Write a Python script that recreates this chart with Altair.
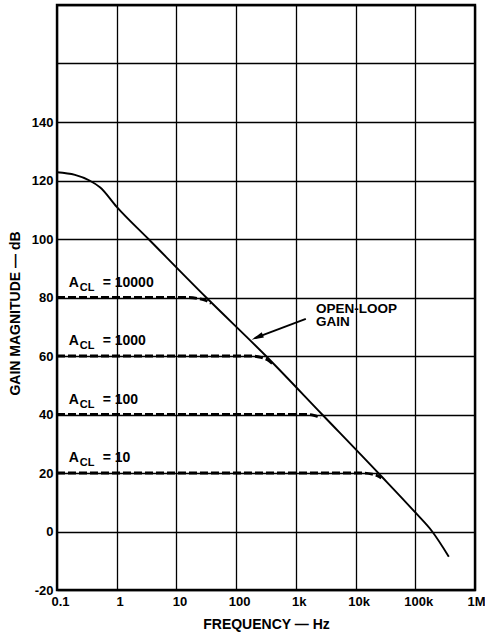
import altair as alt
import pandas as pd

# ---------------- data ----------------
x_ticks = [0.1, 1, 10, 100, 1000, 10000, 100000, 1000000]
x_tick_labels = ["0.1", "1", "10", "100", "1k", "10k", "100k", "1M"]
y_ticks = [-20, 0, 20, 40, 60, 80, 100, 120, 140, 160, 180]
y_tick_labels = ["-20", "0", "20", "40", "60", "80", "100", "120", "140", "", ""]

# open-loop gain curve
ol_freq = [0.1, 0.2, 0.35, 0.53, 1, 3.4, 31.6, 316, 2760, 24000, 100000, 192000, 364000]
ol_db = [122.8, 121.9, 120.0, 117.6, 111.0, 100.0, 80.0, 60.0, 40.0, 20.0, 6.5, 0.0, -8.6]

# closed-loop responses (dashed)
acl_names = ["10000", "1000", "100", "10"]
cl_freq = {
    "10000": [0.1, 16, 24, 31, 38],
    "1000": [0.1, 178, 260, 340, 414],
    "100": [0.1, 1580, 2000, 2300, 2600],
    "10": [0.1, 13400, 19000, 23000, 27000],
}
cl_db = {
    "10000": [80, 80, 79.6, 79.0, 78.0],
    "1000": [60, 60, 59.5, 58.6, 57.2],
    "100": [40, 40, 39.7, 39.3, 38.8],
    "10": [20, 20, 19.6, 19.1, 18.3],
}
acl_label_db = [85, 65, 45, 25]
acl_label_freq = 0.157

ann_lines = ["OPEN-LOOP", "GAIN"]
ann_db = [76.1, 71.5]
ann_freq = 2170
arrow_freq = [1470, 205]
arrow_db = [72.7, 66.1]
arrow_head_freq = [225]
arrow_head_db = [66.4]

# ---------------- tables ----------------
ol_df = pd.DataFrame({"f": ol_freq, "db": ol_db})
cl_rows = []
for name in acl_names:
    for i, (f, d) in enumerate(zip(cl_freq[name], cl_db[name])):
        cl_rows.append({"acl": name, "f": f, "db": d, "o": i})
cl_df = pd.DataFrame(cl_rows)
lab_df = pd.DataFrame({"acl": acl_names, "db": acl_label_db, "f": [acl_label_freq] * 4,
                       "rest": ["= " + n for n in acl_names]})
ann_df = pd.DataFrame({"t": ann_lines, "db": ann_db, "f": [ann_freq] * 2})
arrow_df = pd.DataFrame({"f": arrow_freq, "db": arrow_db, "o": [0, 1]})
head_df = pd.DataFrame({"f": arrow_head_freq, "db": arrow_head_db})

FONT = "Liberation Sans"

x_expr = " : ".join(
    f"datum.value == {v} ? '{l}'" for v, l in zip(x_ticks, x_tick_labels)
) + " : ''"
y_expr = " : ".join(
    f"datum.value == {v} ? '{l}'" for v, l in zip(y_ticks, y_tick_labels)
) + " : ''"

x_scale = alt.Scale(type="log", domain=[0.1, 1000000], nice=False)
y_scale = alt.Scale(domain=[-20, 180], nice=False)

x_axis = alt.Axis(
    values=x_ticks, labelExpr=x_expr, title="FREQUENCY — Hz", grid=True,
    gridColor="black", gridOpacity=1, gridWidth=1.3, ticks=False, domain=False,
    labelFont=FONT, labelFontSize=13, labelFontWeight="bold", labelColor="black",
    labelPadding=5,
    labelOffset={"condition": {"test": "datum.value == 1000000", "value": 10}, "value": 3},
    labelAlign={"condition": {"test": "datum.value == 1000000", "value": "right"}, "value": "center"},
    labelOverlap=False, labelBound=False, labelFlush=False,
    titleFont=FONT, titleFontSize=14, titleFontWeight="bold", titleColor="black",
    titleY=34, titleBaseline="middle",
)
y_axis = alt.Axis(
    values=y_ticks, labelExpr=y_expr, title="GAIN MAGNITUDE — dB", grid=True,
    gridColor="black", gridOpacity=1, gridWidth=1.3, ticks=False, domain=False,
    labelFont=FONT, labelFontSize=13, labelFontWeight="bold", labelColor="black",
    labelPadding=4, labelOverlap=False, labelBound=False,
    titleFont=FONT, titleFontSize=14, titleFontWeight="bold", titleColor="black",
    titleX=-42, titleY=308, titleBaseline="middle", titleAngle=-90,
)

ol = alt.Chart(ol_df).mark_line(color="black", strokeWidth=1.9, interpolate="monotone").encode(
    x=alt.X("f:Q", scale=x_scale, axis=x_axis),
    y=alt.Y("db:Q", scale=y_scale, axis=y_axis),
)

cl = alt.Chart(cl_df).mark_line(color="black", strokeWidth=2.8, strokeDash=[8, 3],
                                interpolate="monotone").encode(
    x=alt.X("f:Q", scale=x_scale),
    y=alt.Y("db:Q", scale=y_scale),
    detail="acl:N",
    order="o:Q",
)

txt = dict(font=FONT, fontWeight="bold", color="black", baseline="middle", align="left")
lab_a = alt.Chart(lab_df).mark_text(text="A", fontSize=14, **txt).encode(
    x=alt.X("f:Q", scale=x_scale), y=alt.Y("db:Q", scale=y_scale))
lab_cl = alt.Chart(lab_df).mark_text(text="CL", fontSize=11, dx=11, dy=5, **txt).encode(
    x=alt.X("f:Q", scale=x_scale), y=alt.Y("db:Q", scale=y_scale))
lab_rest = alt.Chart(lab_df).mark_text(fontSize=14, dx=34, **txt).encode(
    x=alt.X("f:Q", scale=x_scale), y=alt.Y("db:Q", scale=y_scale), text="rest:N")

ann = alt.Chart(ann_df).mark_text(fontSize=13.5, **txt).encode(
    x=alt.X("f:Q", scale=x_scale), y=alt.Y("db:Q", scale=y_scale), text="t:N")

arrow = alt.Chart(arrow_df).mark_line(color="black", strokeWidth=1.9).encode(
    x=alt.X("f:Q", scale=x_scale), y=alt.Y("db:Q", scale=y_scale), order="o:Q")
head = alt.Chart(head_df).mark_point(
    shape="M 1 0 L -1 -0.45 L -1 0.45 Z", filled=True, color="black", opacity=1,
    size=150, angle=157, strokeWidth=0,
).encode(x=alt.X("f:Q", scale=x_scale), y=alt.Y("db:Q", scale=y_scale))

chart = alt.layer(ol, cl, lab_a, lab_cl, lab_rest, ann, arrow, head).properties(
    width=418, height=585,
    autosize=alt.AutoSizeParams(type="none"),
    padding={"left": 57, "top": 5, "right": 10, "bottom": 44},
    background="white",
).configure_view(stroke="black", strokeWidth=2.4)

chart.save("out.html", embed_options={"renderer": "svg", "actions": False})
